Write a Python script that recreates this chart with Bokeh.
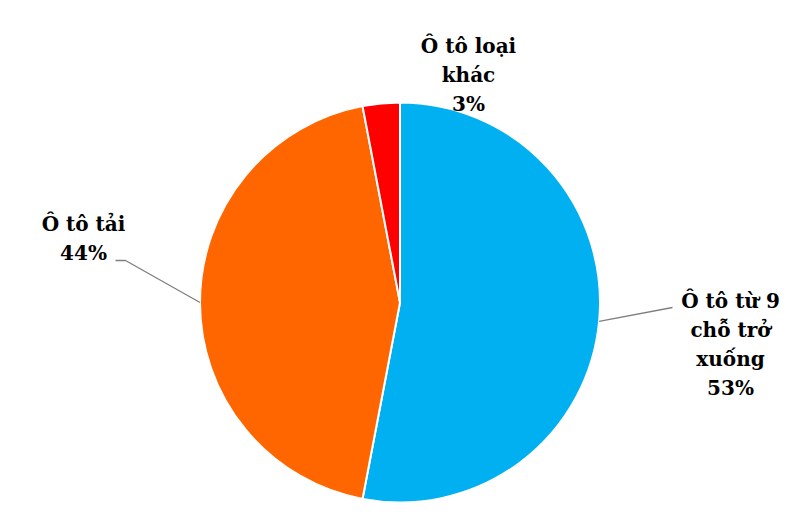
import math
from bokeh.plotting import figure
from bokeh.models import Range1d
from bokeh.core.properties import value
from bokeh.embed import file_html
from bokeh.resources import INLINE

# ---- data ----
categories = ["Ô tô từ 9\nchỗ trở\nxuống", "Ô tô tải", "Ô tô loại\nkhác"]
percents = [53, 44, 3]
colors = ["#00B0F0", "#FF6600", "#FF0000"]

# ---- layout (image pixel coordinates) ----
W, H = 800, 518
cx, cy, R = 399.5, 302, 200
# label anchor = centre of first text line
label_pos = [(730, 300), (83, 223), (468, 45)]
line_gap = 29
# leader elbows: (end point near text), optional middle point
leaders = [[(672, 307)], [(125, 260), (115, 260)], None]

def yd(y):
    return H - y

p = figure(width=792, height=510, output_backend="svg", toolbar_location=None,
           x_range=Range1d(0, 792), y_range=Range1d(8, 518), min_border=0)
p.axis.visible = False
p.grid.visible = False
p.outline_line_color = None
p.background_fill_color = "white"

total = sum(percents)
start = math.pi / 2
for cat, pct, col, lp, ld in zip(categories, percents, colors, label_pos, leaders):
    sweep = 2 * math.pi * pct / total
    end = start - sweep
    p.wedge(x=[cx], y=[yd(cy)], radius=R, start_angle=[end], end_angle=[start],
            direction="anticlock", fill_color=col, line_color="white", line_width=2)
    mid = (start + end) / 2
    if ld:
        xs = [cx + R * math.cos(mid)]
        ys = [yd(cy) + R * math.sin(mid)]
        for (lx, ly) in ld:
            xs.append(lx)
            ys.append(yd(ly))
        p.line(xs, ys, line_color="#7f7f7f", line_width=1.3)
    lines = cat.split("\n") + [f"{pct}%"]
    for i, t in enumerate(lines):
        p.text(x=[lp[0]], y=[yd(lp[1] + i * line_gap)], text=[t],
               text_font=value("DejaVu Serif"), text_font_style="bold",
               text_font_size="20px", text_color="black",
               text_align="center", text_baseline="middle")
    start = end

open("out.html", "w").write(file_html(p, INLINE))
